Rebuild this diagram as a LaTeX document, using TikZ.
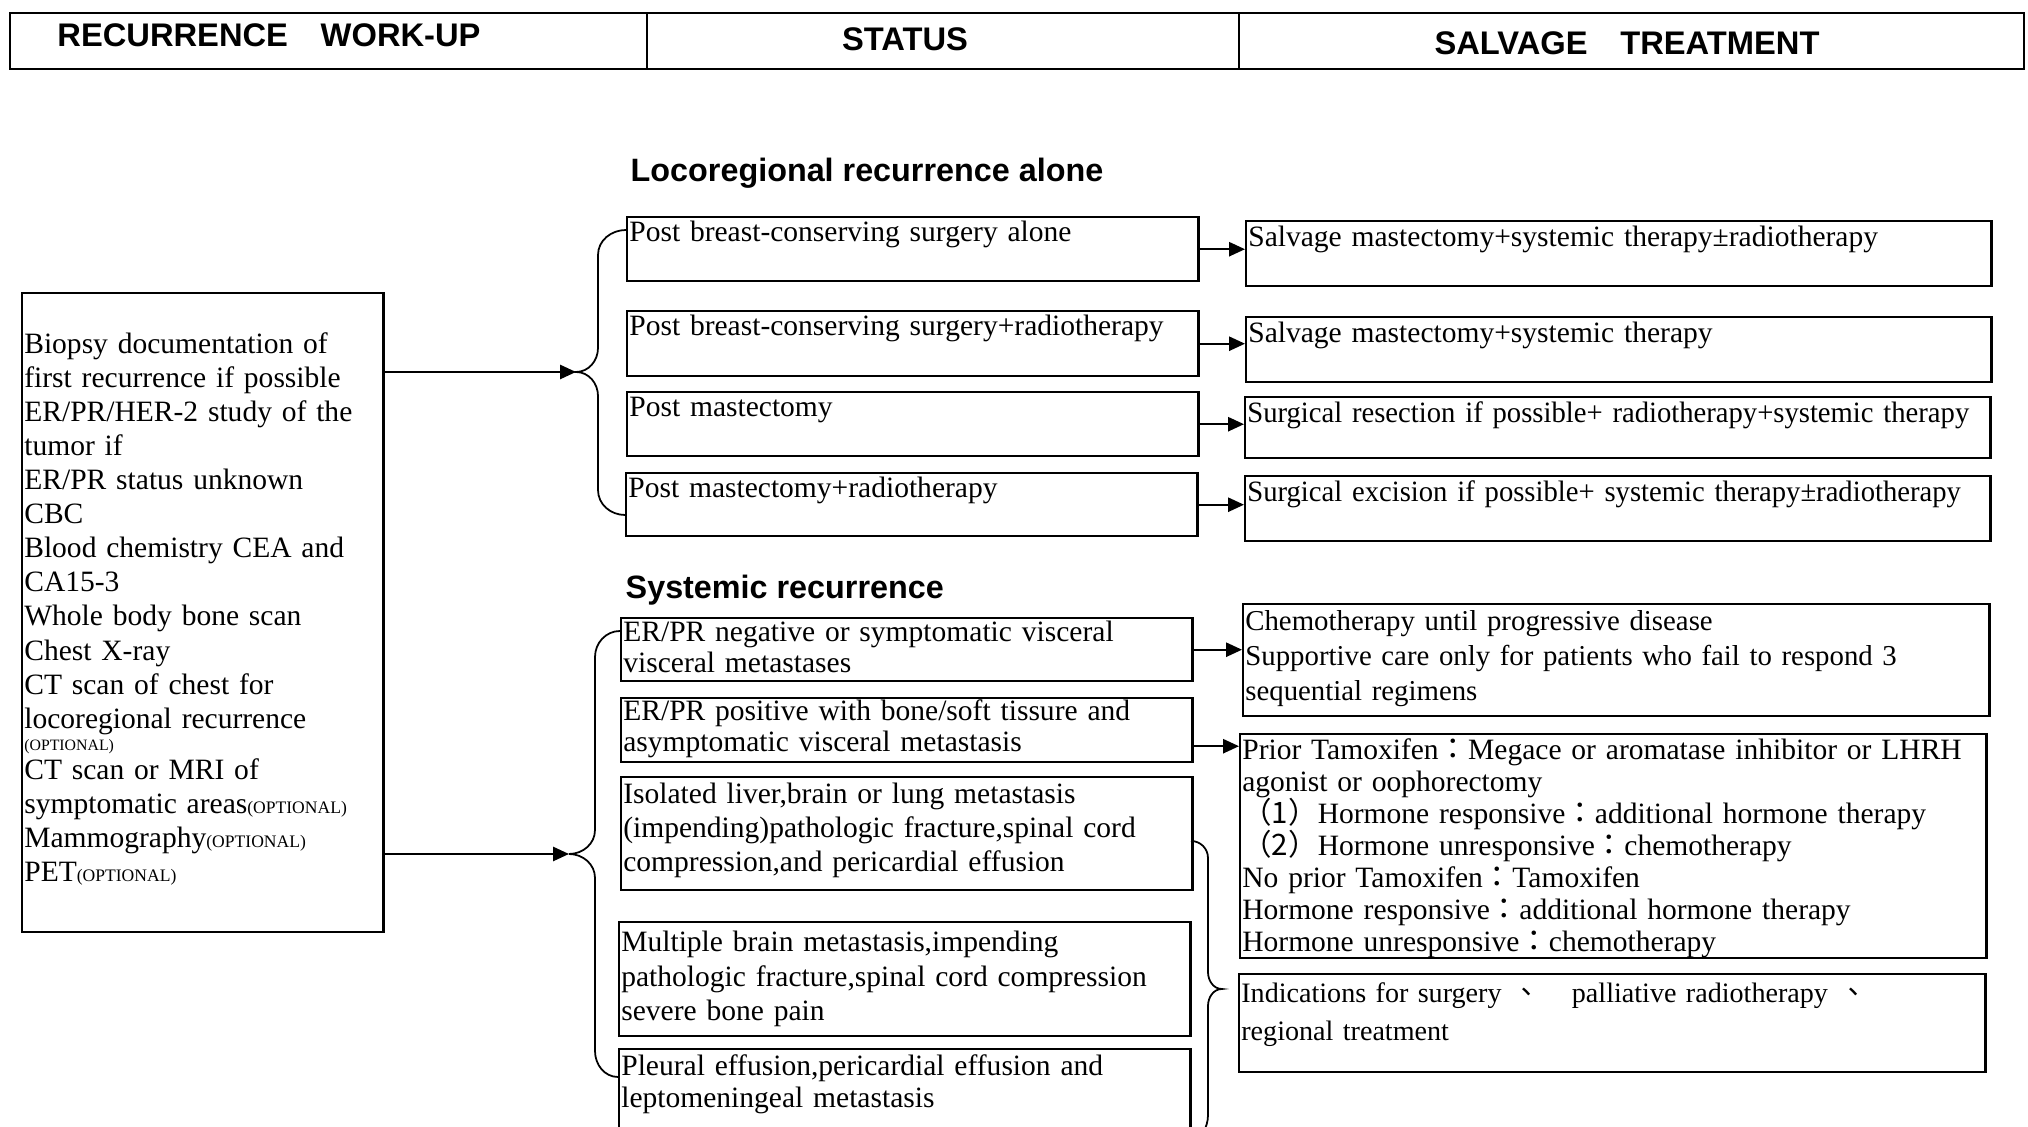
\documentclass[tikz,border=0pt]{standalone}
\usepackage{fontspec}
\setmainfont{Liberation Serif}
\newfontfamily\narrowserif[FakeStretch=0.97]{Liberation Serif}
\newfontfamily\headfont{Liberation Sans}
\newfontfamily\cjk{Noto Sans CJK TC}
\usetikzlibrary{arrows.meta}
\hyphenpenalty=10000

\newcommand{\optnote}{{\fontsize{5}{5}\selectfont (OPTIONAL)}}
\newcommand{\fwc}{{\cjk ：}}

\begin{document}
\begin{tikzpicture}[
        box/.style={draw, line width=0.7pt, anchor=north west, align=left, inner xsep=0.6pt, inner ysep=0pt},
        arr/.style={line width=0.6pt, -{Triangle[length=4.5pt,width=4pt]}},
        brace/.style={line width=0.5pt},
        hd/.style={font={\headfont\bfseries\fontsize{9.3}{11}\selectfont}, anchor=base, inner sep=0pt},
        heading/.style={font={\headfont\bfseries\fontsize{9.2}{11}\selectfont}, anchor=base west, inner sep=0pt}
]
        \useasboundingbox (0,0) rectangle (20.28,-11.27);

        % header band
        \draw[line width=0.6pt] (0.10,-0.13) rectangle (20.24,-0.69);
        \draw[line width=0.6pt] (6.47,-0.13) -- (6.47,-0.69);
        \draw[line width=0.6pt] (12.39,-0.13) -- (12.39,-0.69);
        \node[hd] (hwork) at (2.69,-0.47) {RECURRENCE\quad WORK-UP};
        \node[hd] (hstat) at (9.05,-0.51) {STATUS};
        \node[hd] (htreat) at (16.27,-0.55) {SALVAGE\quad TREATMENT};

        % work-up
        \node[box, font=\fontsize{8.4}{9.7}\selectfont, text width=3.57cm, text height=0.60cm, text depth=5.79cm] (work) at (0.21,-2.92)
        {Biopsy documentation of\\first recurrence if possible\\ER/PR/HER-2 study of the\\tumor if\\ER/PR status unknown\\CBC\\
         Blood chemistry CEA and\\CA15-3\\Whole body bone scan\\Chest X-ray\\CT scan of chest for\\locoregional recurrence\\[-3.5pt]
         {\fontsize{4.5}{5}\selectfont (OPTIONAL)}\\[-1.3pt]CT scan or MRI of\\symptomatic areas\optnote\\Mammography\optnote\\PET\optnote};

        % locoregional
        \node[heading] (hloco) at (6.30,-1.82) {Locoregional recurrence alone};
        \node[box, font=\fontsize{8.4}{9.7}\selectfont, text width=5.67cm, text height=0.24cm, text depth=0.40cm] (lo1) at (6.26,-2.16) {Post breast-conserving surgery alone};
        \node[box, font=\fontsize{8.4}{9.7}\selectfont, text width=5.67cm, text height=0.24cm, text depth=0.41cm] (lo2) at (6.26,-3.10) {Post breast-conserving surgery+radiotherapy};
        \node[box, font=\fontsize{8.4}{9.7}\selectfont, text width=5.67cm, text height=0.24cm, text depth=0.40cm] (lo3) at (6.26,-3.91) {Post mastectomy};
        \node[box, font=\fontsize{8.4}{9.7}\selectfont, text width=5.67cm, text height=0.24cm, text depth=0.39cm] (lo4) at (6.25,-4.72) {Post mastectomy+radiotherapy};

        \node[box, font=\fontsize{8.4}{9.7}\selectfont, text width=7.41cm, text height=0.25cm, text depth=0.40cm] (sv1) at (12.45,-2.20) {Salvage mastectomy+systemic therapy±radiotherapy};
        \node[box, font=\fontsize{8.4}{9.7}\selectfont, text width=7.41cm, text height=0.25cm, text depth=0.40cm] (sv2) at (12.45,-3.16) {Salvage mastectomy+systemic therapy};
        \node[box, font=\narrowserif\fontsize{8.4}{9.7}\selectfont, text width=7.41cm, text height=0.25cm, text depth=0.36cm] (sv3) at (12.44,-3.96) {Surgical resection if possible+ radiotherapy+systemic therapy};
        \node[box, font=\narrowserif\fontsize{8.4}{9.7}\selectfont, text width=7.41cm, text height=0.25cm, text depth=0.40cm] (sv4) at (12.44,-4.75) {Surgical excision if possible+ systemic therapy±radiotherapy};

        % systemic
        \node[heading] (hsys) at (6.25,-5.99) {Systemic recurrence};
        \node[box, font=\fontsize{8.4}{9.0}\selectfont, text width=5.67cm, text height=0.23cm, text depth=0.40cm] (ys1) at (6.20,-6.17)
        {ER/PR negative or symptomatic visceral\\visceral metastases};
        \node[box, font=\fontsize{8.4}{9.0}\selectfont, text width=5.67cm, text height=0.22cm, text depth=0.42cm] (ys2) at (6.20,-6.97)
        {ER/PR positive with bone/soft tissure and\\asymptomatic visceral metastasis};
        \node[box, font=\fontsize{8.4}{9.7}\selectfont, text width=5.67cm, text height=0.26cm, text depth=0.87cm] (ys3) at (6.20,-7.76)
        {Isolated liver,brain or lung metastasis\\(impending)pathologic fracture,spinal cord\\compression,and pericardial effusion};
        \node[box, font=\fontsize{8.4}{9.9}\selectfont, text width=5.67cm, text height=0.29cm, text depth=0.85cm] (ys4) at (6.18,-9.21)
        {Multiple brain metastasis,impending\\pathologic fracture,spinal cord compression\\severe bone pain};
        \node[box, font=\fontsize{8.4}{9.2}\selectfont, text width=5.67cm, text height=0.26cm, text depth=1.00cm] (ys5) at (6.18,-10.48)
        {Pleural effusion,pericardial effusion and\\leptomeningeal metastasis};

        \node[box, font=\fontsize{8.2}{10}\selectfont, text width=7.42cm, text height=0.26cm, text depth=0.86cm] (tr1) at (12.42,-6.03)
        {Chemotherapy until progressive disease\\Supportive care only for patients who fail to respond 3\\sequential regimens};
        \node[box, font=\fontsize{8.4}{9.1}\selectfont, text width=7.42cm, text height=0.25cm, text depth=1.99cm] (tr2) at (12.39,-7.33)
        {Prior Tamoxifen\fwc Megace or aromatase inhibitor or LHRH\\agonist or oophorectomy\\
         {\cjk （1）}Hormone responsive\fwc additional hormone therapy\\
         {\cjk （2）}Hormone unresponsive\fwc chemotherapy\\
         No prior Tamoxifen\fwc Tamoxifen\\Hormone responsive\fwc additional hormone therapy\\Hormone unresponsive\fwc chemotherapy};
        \node[box, font=\fontsize{8.0}{11}\selectfont, text width=7.42cm, text height=0.28cm, text depth=0.70cm] (tr3) at (12.38,-9.73)
        {Indications for surgery\hspace{0.4em}{\cjk 、}\hspace{1.1em}palliative radiotherapy\hspace{0.4em}{\cjk 、}\\regional treatment};

        % braces
        \coordinate (lbtop) at (6.26,-2.30);
        \coordinate (lbtip) at (5.76,-3.72);
        \coordinate (lbbot) at (6.25,-5.15);
        \draw[brace] (lbtop) to[out=180,in=90] (5.98,-2.55) -- (5.98,-3.48) to[out=-90,in=0] (lbtip)
                to[out=0,in=90] (5.98,-3.96) -- (5.98,-4.90) to[out=-90,in=180] (lbbot);

        \coordinate (sbtop) at (6.20,-6.31);
        \coordinate (sbtip) at (5.69,-8.54);
        \coordinate (sbbot) at (6.18,-10.77);
        \draw[brace] (sbtop) to[out=180,in=90] (5.95,-6.57) -- (5.95,-8.30) to[out=-90,in=0] (sbtip)
                to[out=0,in=90] (5.95,-8.78) -- (5.95,-10.51) to[out=-90,in=180] (sbbot);

        \coordinate (rbtop) at (11.91,-8.41);
        \coordinate (rbtip) at (12.22,-9.89);
        \coordinate (rbbot) at (11.89,-11.40);
        \draw[brace] (rbtop) to[out=0,in=90] (12.08,-8.58) -- (12.08,-9.72) to[out=-90,in=180] (rbtip)
                to[out=180,in=90] (12.08,-10.06) -- (12.08,-11.15) to[out=-90,in=0] (rbbot);

        % arrows
        \draw[arr] (work.east |- lbtip) -- (lbtip);
        \draw[arr] (work.east |- sbtip) -- (sbtip);
        \foreach \i in {1,...,4}
        {
                \draw[arr] (lo\i.east) -- (lo\i.east -| sv\i.west);
        }
        \draw[arr] (ys1.east) -- (ys1.east -| tr1.west);
        \draw[arr] ([yshift=-0.16cm]ys2.east) -- ([yshift=-0.16cm]ys2.east -| tr2.west);

\end{tikzpicture}
\end{document}
